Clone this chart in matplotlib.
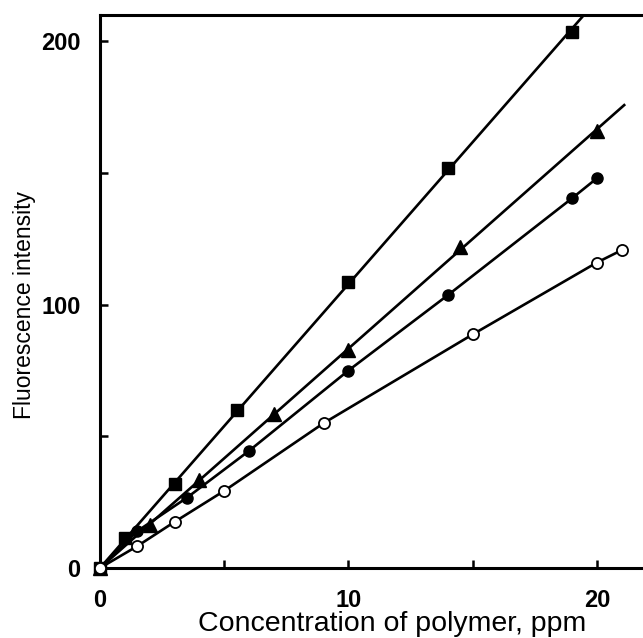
import numpy as np
import matplotlib
matplotlib.use("Agg")
import matplotlib.pyplot as plt
from matplotlib.ticker import MultipleLocator

plt.rcParams['font.family'] = ['Liberation Sans', 'DejaVu Sans']

# data
sq_x = [0, 1, 3, 5.5, 10, 14, 19]
sq_y = [0, 11.5, 32, 60, 108.5, 152, 203.5]
sq_end = 19.6

tri_x = [0, 2, 4, 7, 10, 14.5, 20]
tri_y = [0, 16.3, 33.5, 58.5, 82.7, 122, 166]
tri_end = 21.1

fc_x = [0, 1.5, 3.5, 6, 10, 14, 19, 20]
fc_y = [0, 14, 26.7, 44.5, 75, 103.6, 140.4, 148]

oc_x = [0, 1.5, 3, 5, 9, 15, 20, 21]
oc_y = [0, 8.3, 17.5, 29.3, 55, 88.7, 116, 120.7]

x_ticks = [0, 10, 20]
y_ticks = [0, 100, 200]

fig = plt.figure(figsize=(6.43, 6.38), dpi=100)
ax = fig.add_axes([0.1555, 0.1097, 0.908, 0.8668])

lw = 1.9

# straight fits through origin for squares and triangles
def origin_fit(x, y):
    x = np.array(x)
    y = np.array(y)
    return (x * y).sum() / (x * x).sum()

k = origin_fit(sq_x, sq_y)
ax.plot([0, sq_end], [0, k * sq_end], color='black', lw=lw, zorder=2)
ax.plot(sq_x, sq_y, ls='none', marker='s', ms=8.5, color='black', zorder=3, clip_on=False)

k = origin_fit(tri_x, tri_y)
ax.plot([0, tri_end], [0, k * tri_end], color='black', lw=lw, zorder=2)
ax.plot(tri_x, tri_y, ls='none', marker='^', ms=10.5, color='black', zorder=3, clip_on=False)

ax.plot(fc_x, fc_y, color='black', lw=lw, marker='o', ms=8, zorder=3, clip_on=False)

ax.plot(oc_x, oc_y, color='black', lw=lw, marker='o', ms=8,
        mfc='white', mec='black', mew=1.3, zorder=4, clip_on=False)

ax.set_xlim(0, 23.5)
ax.set_ylim(0, 210)
ax.set_xticks(x_ticks)
ax.set_yticks(y_ticks)
ax.xaxis.set_minor_locator(MultipleLocator(5))
ax.yaxis.set_minor_locator(MultipleLocator(50))
ax.tick_params(which='both', direction='in', length=6, width=1.8)
ax.tick_params(axis='x', pad=15, labelsize=17)
ax.tick_params(axis='y', pad=14, labelsize=17)
for lab in ax.get_xticklabels() + ax.get_yticklabels():
    lab.set_fontweight('bold')

for s in ax.spines.values():
    s.set_linewidth(2.2)

ax.set_xlabel("Concentration of polymer, ppm", fontsize=20.5)
ax.set_ylabel("Fluorescence intensity", fontsize=16.5)
ax.xaxis.set_label_coords(0.5, -0.077)
ax.yaxis.set_label_coords(-0.11, 0.476)

fig.savefig("out.png", dpi=100)
